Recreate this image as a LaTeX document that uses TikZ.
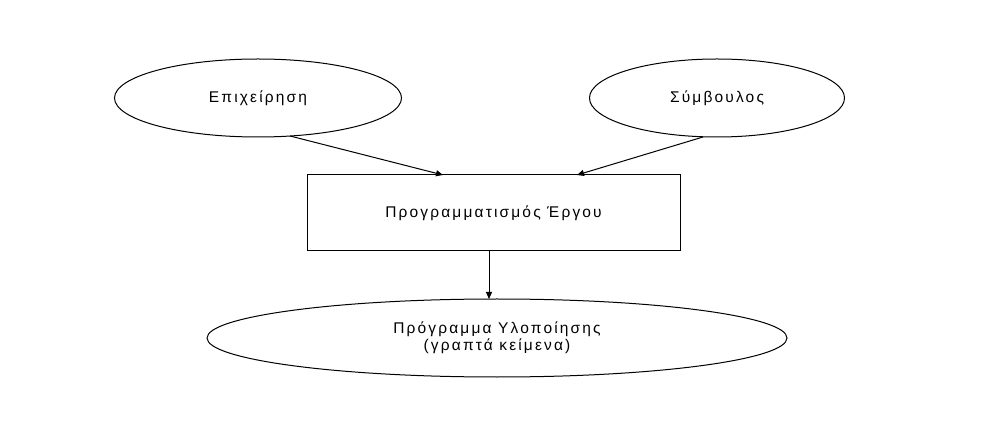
\documentclass[tikz,border=0pt]{standalone}
\usepackage{fontspec}
\setmainfont{Liberation Sans}
\usetikzlibrary{shapes.geometric,arrows.meta}
\newfontfamily\labelfont[LetterSpace=14]{Liberation Sans}
\begin{document}
\begin{tikzpicture}[x=1pt,y=-1pt,
  every node/.style={font=\labelfont\fontsize{15.5}{17}\selectfont, align=center},
  oval/.style={draw, ellipse, inner sep=0pt},
  stepbox/.style={draw, rectangle, inner sep=0pt},
  flow/.style={draw, line width=1pt, -{Triangle[length=7pt,width=6pt]}}
]
  \useasboundingbox[fill=white] (0,0) rectangle (990,435);
  \tikzset{every path/.style={line width=1pt}}

  % sources
  \node[oval, minimum width=287pt, minimum height=78pt] (firm) at (258,98) {Επιχείρηση};
  \node[oval, minimum width=255pt, minimum height=78pt] (adv) at (717,98) {Σύμβουλος};

  % planning step
  \node[stepbox, minimum width=373pt, minimum height=76pt] (plan) at (493.5,213) {Προγραμματισμός Έργου};

  % result
  \node[oval, minimum width=580pt, minimum height=78pt] (out) at (497,338) {Πρόγραμμα Υλοποίησης\\(γραπτά κείμενα)};

  % connection points
  \coordinate (a1) at (290,136);
  \coordinate (t1) at (443,175);
  \coordinate (a2) at (703,137);
  \coordinate (t2) at (577,175);
  \coordinate (a3) at (489,251);
  \coordinate (t3) at (489,299);

  \draw[flow] (a1) -- (t1);
  \draw[flow] (a2) -- (t2);
  \draw[flow] (a3) -- (t3);
\end{tikzpicture}
\end{document}
